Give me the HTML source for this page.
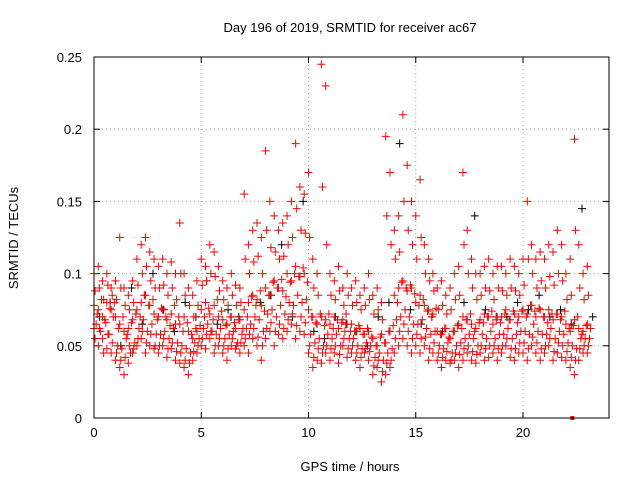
<!DOCTYPE html>
<html><head><meta charset="utf-8"><style>
body{margin:0;background:#fff;}
svg text{font-family:"Liberation Sans",sans-serif;font-size:13px;fill:#000;}
</style></head><body>
<svg id="chart" width="640" height="480" viewBox="0 0 640 480" xmlns="http://www.w3.org/2000/svg">
<rect width="640" height="480" fill="#fff"/>
<text x="350" y="32" text-anchor="middle">Day 196 of 2019, SRMTID for receiver ac67</text>
<text x="350" y="471" text-anchor="middle">GPS time / hours</text>
<text transform="translate(18,238) rotate(-90)" text-anchor="middle">SRMTID / TECUs</text>
<g id="grid"></g>
<g id="ticks"></g>
<g id="marks"></g>
<rect x="94" y="57" width="515" height="361" fill="none" stroke="#000" stroke-width="1"/>
</svg>
<script>
const xTicks=[0,5,10,15,20];
const yTicks=[0,0.05,0.1,0.15,0.2,0.25];
const yTickLabels=["0","0.05","0.1","0.15","0.2","0.25"];
const redLow=[.062,.05,.055,.048,.045,.04,.035,.03,.038,.045,.05,.055,.045,.05,.048,.045,.05,.042,.048,.04,.038,.035,.03,.04,.045,.05,.048,.055,.045,.05,.045,.04,.05,.048,.045,.05,.045,.055,.05,.04,.055,.06,.05,.058,.055,.06,.065,.055,.06,.058,.045,.035,.04,.038,.045,.04,.045,.038,.05,.042,.045,.04,.035,.045,.04,.03,.035,.025,.03,.035,.045,.05,.055,.05,.045,.05,.045,.05,.04,.045,.04,.035,.04,.038,.04,.035,.04,.045,.04,.038,.045,.04,.042,.045,.04,.045,.05,.042,.04,.045,.045,.04,.05,.045,.04,.045,.05,.04,.045,.042,.04,.035,.03,.04,.045,.045];
const redMid=[.078,.075,.07,.08,.075,.07,.065,.06,.062,.068,.075,.08,.085,.078,.072,.07,.075,.068,.072,.065,.065,.07,.06,.055,.06,.075,.08,.072,.078,.07,.068,.065,.07,.062,.068,.075,.08,.085,.082,.078,.09,.085,.095,.09,.088,.1,.095,.105,.098,.1,.075,.07,.065,.07,.068,.065,.07,.062,.068,.065,.065,.06,.062,.058,.06,.055,.05,.058,.052,.06,.085,.09,.095,.088,.09,.08,.085,.078,.075,.072,.06,.058,.062,.055,.06,.065,.07,.068,.065,.062,.068,.072,.07,.065,.07,.07,.075,.068,.072,.07,.075,.072,.078,.07,.075,.07,.075,.068,.072,.07,.065,.06,.068,.062,.06,.065];
const redHigh=[.1,.105,.095,.1,.09,.095,.125,.09,.085,.095,.11,.12,.125,.115,.11,.105,.11,.1,.108,.1,.135,.1,.09,.085,.095,.11,.105,.12,.115,.105,.095,.09,.1,.092,.09,.155,.12,.13,.135,.125,.185,.15,.14,.13,.135,.14,.15,.19,.16,.155,.17,.11,.1,.245,.23,.1,.095,.105,.09,.1,.09,.095,.085,.09,.1,.085,.09,.08,.195,.17,.13,.14,.21,.175,.15,.14,.165,.12,.11,.1,.09,.095,.085,.09,.1,.105,.17,.13,.11,.1,.1,.105,.11,.1,.105,.105,.1,.11,.105,.1,.11,.15,.12,.11,.115,.11,.12,.115,.13,.12,.1,.11,.193,.12,.1,.105];
const redLowMid=[.065,.06,.068,.058,.07,.05,.048,.055,.045,.052,.062,.068,.06,.065,.058,.058,.06,.055,.062,.052,.05,.048,.045,.052,.055,.062,.065,.06,.058,.062,.055,.058,.06,.052,.058,.062,.065,.07,.068,.06,.072,.075,.07,.078,.072,.08,.078,.085,.08,.082,.058,.052,.055,.05,.058,.055,.058,.05,.06,.055,.055,.05,.048,.052,.05,.042,.045,.04,.045,.048,.068,.07,.075,.07,.065,.065,.068,.062,.058,.06,.05,.048,.052,.045,.05,.052,.055,.058,.055,.05,.058,.055,.06,.055,.058,.058,.062,.055,.058,.06,.06,.058,.065,.06,.058,.058,.062,.055,.06,.058,.052,.05,.048,.055,.055,.055];
const redUpperMid=[.088,.09,.082,.092,.085,.082,.09,.078,.075,.08,.092,.1,.105,.095,.09,.09,.092,.085,.09,.082,.1,.085,.078,.07,.078,.092,.095,.1,.098,.088,.082,.078,.085,.078,.08,.11,.1,.108,.112,.1,.13,.118,.115,.11,.112,.12,.125,.145,.13,.128,.125,.09,.085,.16,.12,.085,.082,.088,.078,.085,.078,.08,.075,.078,.082,.072,.075,.068,.14,.12,.11,.115,.15,.13,.12,.11,.125,.1,.095,.088,.075,.078,.072,.075,.082,.085,.12,.1,.09,.082,.085,.09,.088,.082,.09,.088,.085,.09,.088,.085,.092,.11,.1,.09,.095,.09,.098,.092,.1,.095,.082,.085,.13,.09,.082,.085];
const redMid2=[.072,.082,.066,.076,.08,.062,.07,.058,.066,.072,.07,.085,.078,.082,.068,.076,.07,.064,.078,.07,.06,.066,.058,.062,.064,.07,.076,.068,.082,.074,.064,.07,.066,.068,.062,.07,.084,.078,.088,.074,.085,.094,.09,.096,.084,.094,.1,.098,.104,.094,.07,.066,.072,.064,.072,.062,.068,.066,.072,.06,.06,.064,.058,.062,.056,.05,.056,.052,.06,.064,.08,.094,.09,.092,.086,.078,.082,.074,.07,.076,.058,.062,.056,.06,.064,.062,.068,.072,.06,.066,.066,.07,.074,.068,.066,.072,.068,.074,.066,.074,.07,.078,.074,.076,.07,.066,.072,.072,.068,.074,.062,.064,.07,.058,.064,.062];
const redLow2=[.055,.062,.045,.058,.052,.045,.04,.042,.05,.048,.055,.06,.052,.058,.05,.05,.055,.048,.052,.046,.045,.04,.038,.046,.05,.055,.058,.06,.05,.055,.05,.048,.055,.05,.052,.055,.058,.062,.056,.05,.062,.066,.06,.065,.062,.068,.072,.064,.07,.066,.05,.042,.048,.045,.05,.048,.05,.044,.055,.048,.05,.045,.042,.048,.046,.036,.04,.032,.038,.04,.055,.06,.065,.06,.055,.058,.055,.056,.048,.052,.045,.042,.046,.04,.045,.044,.048,.05,.046,.044,.05,.048,.05,.05,.048,.05,.055,.048,.048,.052,.052,.048,.056,.052,.048,.05,.055,.046,.052,.05,.046,.042,.04,.048,.05,.05];
const blackVals=[.07,.08,.05,.09,.065,.1,.075,.06,.08,.07,.095,.065,.075,.07,.1,.08,.085,.12,.07,.15,.06,.055,.07,.065,.06,.05,.07,.08,.19,.075,.065,.07,.06,.06,.08,.14,.075,.07,.07,.08,.075,.085,.07,.075,.065,.145,.07];
const NS="http://www.w3.org/2000/svg";
const X0=94,PXH=21.45,Y0=418,PXU=1444;
function xs(t){return X0+t*PXH;}
function ys(v){return Y0-v*PXU;}
const grid=document.getElementById('grid'),ticks=document.getElementById('ticks'),marks=document.getElementById('marks');
function mk(tag,attrs,parent){const e=document.createElementNS(NS,tag);for(const k in attrs)e.setAttribute(k,attrs[k]);parent.appendChild(e);return e;}
xTicks.forEach(t=>{
  const x=xs(t);
  if(t>0){const g=mk('line',{x1:x,x2:x,y1:57,y2:418,stroke:'#a0a0a0','stroke-dasharray':'1,3'},grid);
  
  }
  mk('line',{x1:x,x2:x,y1:418,y2:412,stroke:'#000'},ticks);
  mk('line',{x1:x,x2:x,y1:57,y2:63,stroke:'#000'},ticks);
  const tx=mk('text',{x:x,y:437,'text-anchor':'middle'},ticks);tx.textContent=String(t);
  
  
});
yTicks.forEach((v,i)=>{
  const y=ys(v);
  if(v>0&&v<0.25){const g=mk('line',{x1:94,x2:609,y1:y,y2:y,stroke:'#a0a0a0','stroke-dasharray':'1,3'},grid);
  
  }
  mk('line',{x1:94,x2:100,y1:y,y2:y,stroke:'#000'},ticks);
  mk('line',{x1:609,x2:603,y1:y,y2:y,stroke:'#000'},ticks);
  const tx=mk('text',{x:82,y:y+5,'text-anchor':'end'},ticks);tx.textContent=yTickLabels[i];
  
  
});
function plus(t,v,color,name){
  const x=xs(t),y=ys(v);
  const p=mk('path',{d:`M${x-4},${y}H${x+4}M${x},${y-4}V${y+4}`,stroke:color,'stroke-width':1,fill:'none'},marks);
  
  
}
blackVals.forEach((v,i)=>plus(i*0.5+0.25,v,'#000','black-point'));
redLow.forEach((v,i)=>plus(i*0.2,v,'#f00','red-point'));
redMid.forEach((v,i)=>plus(i*0.2,v,'#f00','red-point'));
redHigh.forEach((v,i)=>plus(i*0.2,v,'#f00','red-point'));
redLowMid.forEach((v,i)=>plus(i*0.2+0.1,v,'#f00','red-point'));
redUpperMid.forEach((v,i)=>plus(i*0.2+0.05,v,'#f00','red-point'));
redMid2.forEach((v,i)=>plus(i*0.2+0.15,v,'#f00','red-point'));
redLow2.forEach((v,i)=>plus(i*0.2+0.05,v,'#f00','red-point'));
const sq=mk('rect',{x:xs(22.3)-2,y:ys(0)-2,width:4,height:4,fill:'#f00'},marks);


</script>
</body></html>
